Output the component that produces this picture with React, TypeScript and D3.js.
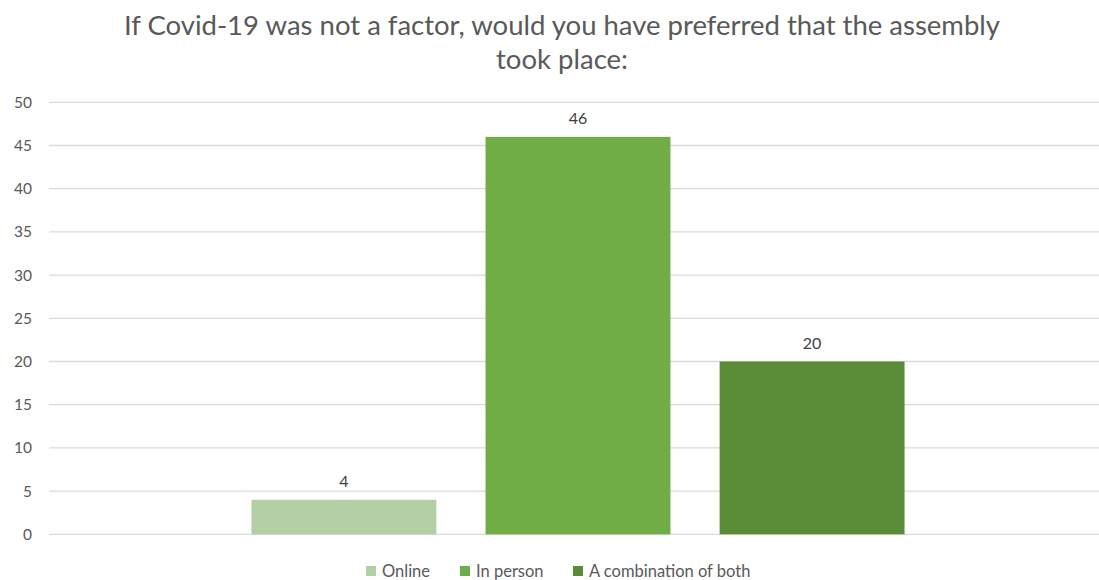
import React from "react";
import * as d3 from "d3";

const titleLines = ["If Covid-19 was not a factor, would you have preferred that the assembly", "took place:"];
const categories = ["Q"];
const seriesNames = ["Online", "In person", "A combination of both"];
const seriesValues = [4, 46, 20];
const seriesColors = ["#b4cfa6", "#70ad47", "#5a8c38"];
const yTicks = [0, 5, 10, 15, 20, 25, 30, 35, 40, 45, 50];

const W = 1099;
const H = 580;
const FONT = "Lato, 'Open Sans', sans-serif";

export default function App() {
  const y = d3.scaleLinear().domain([0, 50]).range([534.3, 102.3]);
  const x0 = d3.scaleBand<string>().domain(categories).range([49, 1107]).paddingOuter(0.31).paddingInner(0);
  const x1 = d3
    .scaleBand<string>()
    .domain(seriesNames)
    .range([0, x0.bandwidth()])
    .paddingInner(0.21)
    .paddingOuter(0);

  const legendX = [366, 460, 573];

  return (
    <svg width={W} height={H} style={{ position: "absolute", left: 0, top: 0, background: "#fff" }}>
      <g fill="#595959" fontFamily={FONT} fontSize={27.5} textAnchor="middle">
        {titleLines.map((t, i) => (
          <text key={i} x={562} y={35 + i * 34}>
            {t}
          </text>
        ))}
      </g>
      <g>
        {yTicks.map((t) => (
          <g key={t}>
            <line x1={49} x2={1107} y1={y(t)} y2={y(t)} stroke="#d9d9d9" strokeWidth={1.3} />
            <text x={32} y={y(t)} dy="0.35em" textAnchor="end" fill="#595959" fontFamily={FONT} fontSize={15.5}>
              {t}
            </text>
          </g>
        ))}
      </g>
      {categories.map((c) => (
        <g key={c} transform={`translate(${x0(c)},0)`}>
          {seriesNames.map((s, i) => (
            <g key={s}>
              <rect
                x={x1(s)}
                y={y(seriesValues[i])}
                width={x1.bandwidth()}
                height={y(0) - y(seriesValues[i])}
                fill={seriesColors[i]}
              />
              <text
                x={(x1(s) as number) + x1.bandwidth() / 2}
                y={y(seriesValues[i]) - 18.5}
                dy="0.35em"
                textAnchor="middle"
                fill="#404040"
                fontFamily={FONT}
                fontSize={16}
              >
                {seriesValues[i]}
              </text>
            </g>
          ))}
        </g>
      ))}
      <g fontFamily={FONT} fontSize={16.5} fill="#595959">
        {seriesNames.map((s, i) => (
          <g key={s}>
            <rect x={legendX[i]} y={566} width={10} height={10} fill={seriesColors[i]} />
            <text x={legendX[i] + 16} y={571} dy="0.35em">
              {s}
            </text>
          </g>
        ))}
      </g>
    </svg>
  );
}
